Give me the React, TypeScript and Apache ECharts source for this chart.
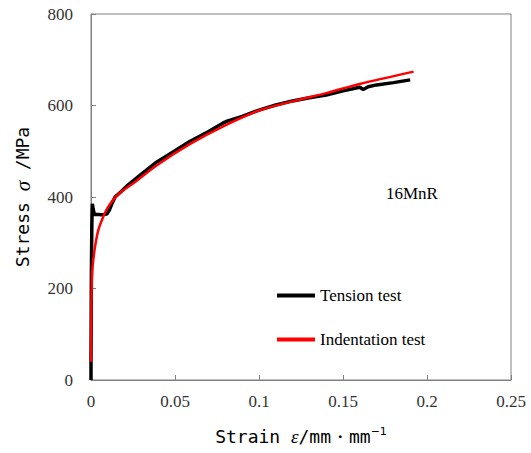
import React, { useEffect, useRef } from "react";
import * as echarts from "echarts";

const tensionStrain = [0, 0, 0.0002, 0.0005, 0.0008, 0.0012, 0.002, 0.004, 0.006, 0.008, 0.0095, 0.011, 0.0125, 0.0143, 0.018, 0.022, 0.026, 0.03, 0.039, 0.05, 0.059, 0.07, 0.0787, 0.081, 0.09, 0.1, 0.11, 0.12, 0.13, 0.14, 0.15, 0.16, 0.162, 0.165, 0.17, 0.18, 0.19];
const tensionStress = [0, 40, 220, 340, 385, 375, 362, 362, 361, 362, 363, 372, 386, 400, 412, 426, 438, 450, 476, 501, 522, 543, 562, 566, 576, 590, 601, 610, 617, 623, 632, 640, 635, 641, 645, 650, 656];

const indentStrain = [0, 0.0002, 0.0005, 0.001, 0.0024, 0.0044, 0.0073, 0.0103, 0.0163, 0.026, 0.039, 0.059, 0.079, 0.1, 0.12, 0.14, 0.16, 0.192];
const indentStress = [40, 150, 218, 250, 291, 328, 357, 379, 406, 432, 469, 516, 555, 589, 609, 627, 647, 674];

const xTicks = [0, 0.05, 0.1, 0.15, 0.2, 0.25];
const yTicks = [0, 200, 400, 600, 800];

const seriesNames = ["Tension test", "Indentation test"];
const annotation = "16MnR";

export default function App() {
  const ref = useRef<HTMLDivElement>(null);
  useEffect(() => {
    const chart = echarts.init(ref.current!, null, { renderer: "svg" });
    const serif = "Liberation Serif";
    const mono = "DejaVu Sans Mono";
    chart.setOption({
      animation: false,
      backgroundColor: "#ffffff",
      grid: {
        left: 91,
        top: 14,
        width: 420,
        height: 366,
        show: true,
        borderColor: "#808080",
        borderWidth: 1,
      },
      legend: {
        orient: "vertical",
        left: 272,
        top: 282,
        itemGap: 27,
        itemWidth: 38,
        itemHeight: 4,
        icon: "rect",
        textStyle: { fontFamily: serif, fontSize: 17, color: "#000" },
        data: seriesNames,
      },
      xAxis: {
        type: "value",
        min: xTicks[0],
        max: xTicks[xTicks.length - 1],
        interval: 0.05,
        axisLine: { lineStyle: { color: "#808080" } },
        axisTick: { inside: true, length: 5, lineStyle: { color: "#808080" } },
        splitLine: { show: false },
        axisLabel: { fontFamily: serif, fontSize: 17, color: "#333", margin: 13 },
        name: "{a|Strain }{i|ε}{a|/mm・mm}{s|−1}",
        nameLocation: "middle",
        nameGap: 46,
        nameTextStyle: {
          rich: {
            a: { fontFamily: mono, fontSize: 18, color: "#000" },
            i: { fontFamily: serif, fontStyle: "italic", fontSize: 19, color: "#000" },
            s: { fontFamily: "DejaVu Sans", fontSize: 11, color: "#000", verticalAlign: "top", padding: [0, 0, 10, 0] },
          },
        },
      },
      yAxis: {
        type: "value",
        min: yTicks[0],
        max: yTicks[yTicks.length - 1],
        interval: 200,
        axisLine: { show: true, lineStyle: { color: "#808080" } },
        axisTick: { show: true, inside: true, length: 5, lineStyle: { color: "#808080" } },
        splitLine: { show: false },
        axisLabel: { fontFamily: serif, fontSize: 17, color: "#333", margin: 18 },
        name: "{a|Stress }{i|σ}{a| /MPa}",
        nameLocation: "middle",
        nameGap: 58,
        nameTextStyle: {
          rich: {
            a: { fontFamily: mono, fontSize: 18, color: "#000" },
            i: { fontFamily: serif, fontStyle: "italic", fontSize: 21, color: "#000" },
          },
        },
      },
      graphic: [
        {
          type: "text",
          left: 386,
          top: 185,
          style: { text: annotation, fontFamily: serif, fontSize: 17, fill: "#000" },
        },
      ],
      series: [
        {
          name: seriesNames[0],
          type: "line",
          showSymbol: false,
          data: tensionStrain.map((x, i) => [x, tensionStress[i]]),
          lineStyle: { color: "#000", width: 3.5 },
          itemStyle: { color: "#000" },
          z: 2,
        },
        {
          name: seriesNames[1],
          type: "line",
          showSymbol: false,
          smooth: 0.3,
          data: indentStrain.map((x, i) => [x, indentStress[i]]),
          lineStyle: { color: "#ff0000", width: 2.5 },
          itemStyle: { color: "#ff0000" },
          z: 3,
        },
      ],
    });
    return () => chart.dispose();
  }, []);
  return (
    <div
      ref={ref}
      style={{ position: "fixed", left: 0, top: 0, width: 531, height: 453, background: "#fff" }}
    />
  );
}
